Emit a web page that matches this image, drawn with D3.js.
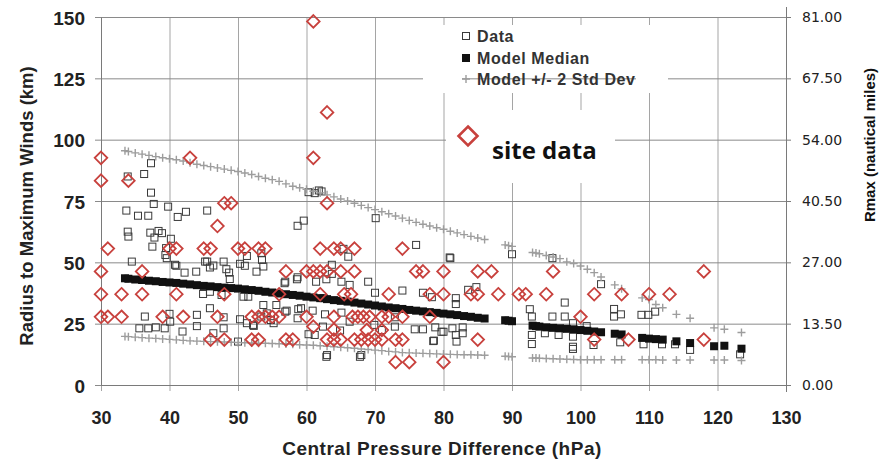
<!DOCTYPE html>
<html>
<head>
<meta charset="utf-8">
<script src="https://cdn.jsdelivr.net/npm/d3@7"></script>
<style>
  body { margin: 0; background: #fff; }
  svg { display: block; }
  .ax text { font-family: "Liberation Sans", Arial, sans-serif; font-weight: bold; fill: #222; }
  .ax path, .ax line { stroke: #7a7a7a; }
</style>
</head>
<body>
<div id="chart"></div>
<script>
// x axis / y axis ticks
var xTicks = [30, 40, 50, 60, 70, 80, 90, 100, 110, 120, 130];
var yTicks = [0, 25, 50, 75, 100, 125, 150];
var rTicks = [0, 13.5, 27, 40.5, 54, 67.5, 81];

// model curves (hPa, km)
var modelX = [33.5, 34, 35, 36, 37, 38, 39, 40, 41, 42, 43, 44, 45, 46, 47, 48, 49, 50, 51, 52, 53, 54, 55, 56, 57, 58, 59, 60,
  61, 62, 63, 64, 65, 66, 67, 68, 69, 70, 71, 72, 73, 74, 75, 76, 77, 78, 79, 80, 81, 82, 83, 84, 85, 86,
  89, 89.5, 90, 93, 93.5, 94, 95, 96, 97, 98, 99, 100, 101, 102, 103, 105, 106, 109, 110, 111, 112, 114, 116, 119.5, 121, 123.5];
var modelMedian = [43.5, 43.3, 43.0, 42.8, 42.5, 42.3, 42.0, 41.8, 41.6, 41.3, 41.0, 40.7, 40.4, 40.2, 39.9, 39.7, 39.5, 39.3, 39.0, 38.7, 38.4, 38.0, 37.7, 37.3, 37.0, 36.7, 36.4, 36.0,
  35.7, 35.4, 35.0, 34.6, 34.3, 34.0, 33.6, 33.2, 32.8, 32.4, 32.0, 31.6, 31.3, 31.0, 30.6, 30.3, 30.0, 29.7, 29.4, 29.1, 28.8, 28.5, 28.1, 27.8, 27.4, 27.1,
  26.4, 26.2, 26.0, 24.2, 24.0, 23.8, 23.5, 23.3, 23.1, 22.9, 22.7, 22.4, 22.1, 21.8, 21.5, 20.9, 20.6, 19.2, 18.9, 18.7, 18.5, 17.8, 17.1, 15.8, 16.0, 14.8];
var modelUpper = [95.5, 95.2, 94.6, 94.1, 93.6, 93.1, 92.6, 92.2, 91.8, 91.3, 90.6, 90.0, 89.5, 89.0, 88.5, 88.0, 87.5, 87.0, 86.4, 85.8, 85.0, 84.3, 83.7, 83.0, 82.0, 81.0, 80.4, 79.8,
  79.0, 78.3, 77.5, 76.7, 75.8, 75.0, 74.1, 73.2, 72.3, 71.5, 70.6, 69.8, 68.9, 68.0, 67.1, 66.3, 65.5, 64.8, 64.1, 63.5, 62.7, 62.0, 61.3, 60.6, 59.9, 59.3,
  57.1, 56.8, 56.5, 54.0, 53.8, 53.5, 52.8, 52.2, 51.5, 50.2, 49.5, 48.5, 47.2, 45.8, 44.0, 40.8, 39.2, 35.5, 34.8, 32.8, 31.5, 28.8, 27.2, 23.3, 22.7, 21.4];
var modelLower = [19.8, 19.7, 19.5, 19.3, 19.1, 19.0, 18.8, 18.6, 18.4, 18.2, 18.0, 17.9, 17.8, 17.7, 17.6, 17.5, 17.4, 17.3, 17.2, 17.1, 17.0, 17.0, 16.9, 16.8, 16.7, 16.6, 16.4, 16.3,
  16.2, 16.0, 15.8, 15.6, 15.4, 15.2, 15.0, 14.7, 14.5, 14.2, 14.0, 13.7, 13.5, 13.2, 13.1, 13.0, 12.9, 12.8, 12.7, 12.6, 12.5, 12.4, 12.3, 12.3, 12.2, 12.1,
  11.7, 11.6, 11.5, 11.0, 11.0, 10.9, 10.8, 10.7, 10.6, 10.5, 10.4, 10.3, 10.3, 10.3, 10.3, 10.3, 10.3, 10.3, 10.3, 10.3, 10.2, 10.2, 10.2, 10.2, 10.2, 10.0];

// observed data (hPa, km)
var obsData = [
  [33.9,85],[36.3,86],[37.3,90.4],[37.3,78.4],[37.7,73.8],[33.7,71.1],[35.4,69],[36.9,69],[39.8,72.7],[41.2,68.5],[42.4,70.6],[45.5,71.1],
  [58.7,64.9],[59.6,67],[60.3,78.6],[61.2,78.2],[61.8,79.3],[62.2,78.9],[70.1,68],
  [33.9,62.5],[34,60.5],[37.2,62.1],[38.4,62.8],[37.8,60.1],[38.9,61.9],[40.2,59.6],[37.5,56.4],[39.5,55.8],
  [39.4,53],[39.6,51.7],[34.5,50.3],[40.8,49],[41,48.6],[42.2,45.8],[43.9,46.2],[45.5,50.3],[45.9,47.9],[46.4,48.7],[47.9,50.3],
  [48.3,47.2],[48.7,45.8],[50.3,49.4],[51,48.6],[51.3,52.6],[53.4,53.7],[53.5,51],[53.7,48.3],[52.7,46.2],[56.8,41.5],[58.7,43.9],
  [48.8,43.2],[45.2,50.3],
  [44.9,37.1],[45.9,38],[47.6,36.7],[50.8,36],[51.5,36],[53.7,32.6],[55.6,32.6],[45.9,31.3],[56.9,29.9],[59.2,31.3],[58.8,30.9],
  [36.4,27.9],[35.6,23.1],[36.9,23.1],[38,23.5],[39.3,23.1],[40,29],[40.1,25.8],[41.9,21.8],[44,28.6],[44,24],[46.4,21.1],
  [47.9,27.6],[47.9,23.1],[50,17.7],[50.3,26.8],[51.3,25.2],[52.3,24.1],[53.4,27.9],[54.2,29.2],[54.8,26.5],[55.2,25.2],
  [58.7,27.2],[60.3,20.7],[61.2,20.4],[52.2,24.5],
  [76,57.1],[81,51.7],[90,53.3],[95.9,51.7],[65.4,55.5],[66.1,52.3],[63.7,49],[63.7,45.3],[56.9,42.1],[58.6,43.1],[61.4,42.1],
  [62.9,43.1],[65.1,42.1],[66.3,40.8],[69,42.1],[70,37.6],[74,38.5],[77,37.6],[78.3,35.8],[81.8,35.4],[81.8,33],[83.6,38.8],
  [84.8,39.9],[62.5,35.4],[57.1,30.3],[60.9,30.3],[62.4,23.8],[62.9,11.5],[64.9,22.2],[65.1,29.5],[66.3,25.8],[67.8,11.5],
  [69.9,24.5],[71,22.4],[72.9,27.6],[72.9,23.8],[75.8,22.7],[77,22.7],[78.8,23.5],[78.6,18.1],[80,21.7],[81.3,23.1],[81.8,20.4],
  [82.8,21.1],[82.8,23.5],[62.7,28.8],[79.7,21.7],[81.9,17.7],[78.5,17.9],[63,12.2],[68,12.2],[80.9,52],
  [92.6,30.9],[92.9,27.9],[92.9,20.4],[92.9,16.7],[94.8,21.1],[95.9,27.9],[96.8,20.4],[97.7,33.6],[97.7,27.9],[98.9,19.7],
  [98.9,15.6],[100.9,24],[101.9,16.3],[103,41.1],[98.9,25.2],[98.9,14.7],[104.9,31],[104.9,27.9],[105.9,28.8],[105.8,17.4],
  [108.9,28.6],[109.9,28.6],[110.9,29.9],[109.2,16.6],[111.9,16.6],[113.8,16.6],[116,14.3],[123.3,12.5]
];

// site data (hPa, km)
var siteData = [
  [61,148.2],[63,111.1],
  [30,92.6],[43,92.6],[61,92.6],
  [30,83.3],[34,83.3],
  [48,74.1],[49,74.1],[63,74.1],
  [47,64.8],
  [31,55.6],[40,55.6],[41,55.6],[45,55.6],[46,55.6],[50,55.6],[51,55.6],[53,55.6],[54,55.6],[62,55.6],[64,55.6],[65,55.6],[67,55.6],[74,55.6],
  [30,46.3],[36,46.3],[57,46.3],[60,46.3],[61,46.3],[62,46.3],[63,46.3],[65,46.3],[67,46.3],[76,46.3],[77,46.3],[80,46.3],[85,46.3],[87,46.3],[96,46.3],[118,46.3],
  [30,37],[33,37],[36,37],[41,37],[48,37],[56,37],[62,37],[65.5,37],[66.5,37],[72,37],[78,37],[80,37],[84,37],[85,37],[88,37],[91,37],[92,37],[95,37],[102,37],[106,37],[110,37],[113,37],
  [30,27.8],[31,27.8],[33,27.8],[39,27.8],[42,27.8],[47,27.8],[52,27.8],[53,27.8],[54,27.8],[55,27.8],[56,27.8],[60,27.8],[64,27.8],[66.7,27.8],[67.5,27.8],[68.3,27.8],[69.2,27.8],[71,27.8],[72,27.8],[74,27.8],[78,27.8],[100,27.8],
  [61,23.8],[64,22.6],[68.8,22.4],[71,22.4],
  [46,18.5],[48,18.5],[52,18.5],[53,18.5],[57,18.5],[58,18.5],[63,18.5],[64,18.5],[65,18.5],[67,18.5],[68,18.5],[69,18.5],[70,18.5],[71,18.5],[73,18.5],[74,18.5],[85,18.5],[102,18.5],[107,18.5],[118,18.5],
  [73,9.3],[75,9.3],[80,9.3]
];

var W = 879, H = 459;
var svg = d3.select('#chart').append('svg').attr('width', W).attr('height', H);

var x = d3.scaleLinear().domain([30, 130]).range([101, 786]);
var y = d3.scaleLinear().domain([0, 150]).range([385, 17]);
var yR = d3.scaleLinear().domain([0, 81]).range([385, 17]);

// grid
var grid = svg.append('g');
grid.selectAll('.vg').data(xTicks).enter().append('line')
  .attr('x1', d => x(d) + 0.5).attr('x2', d => x(d) + 0.5)
  .attr('y1', y(150)).attr('y2', y(0) + 6)
  .attr('stroke', '#a5a5a5').attr('stroke-width', 1);
grid.selectAll('.hg').data(yTicks).enter().append('line')
  .attr('x1', x(30) - 6).attr('x2', x(130))
  .attr('y1', d => y(d) + 0.5).attr('y2', d => y(d) + 0.5)
  .attr('stroke', '#8a8a8a').attr('stroke-width', 1);

// white legend + site data panels (cover the grid like the pasted boxes)
svg.append('rect').attr('x', 423).attr('y', 25).attr('width', 245).attr('height', 68).attr('fill', '#fff');
svg.append('rect').attr('x', 446).attr('y', 110).attr('width', 169).attr('height', 73).attr('fill', '#fff');
svg.append('line').attr('x1', 462).attr('x2', 636).attr('y1', y(125) + 0.5).attr('y2', y(125) + 0.5)
  .attr('stroke', '#8a8a8a');

// axes
var axL = svg.append('g').attr('class', 'ax').attr('transform', 'translate(' + x(30) + ',0)')
  .call(d3.axisLeft(y).tickValues(yTicks).tickSize(0).tickPadding(16));
axL.selectAll('text').style('font-size', '19px').attr('dy', '0.38em');
axL.select('.domain').attr('stroke', '#707070');

var axB = svg.append('g').attr('class', 'ax').attr('transform', 'translate(0,' + y(0) + ')')
  .call(d3.axisBottom(x).tickValues(xTicks).tickSize(0).tickPadding(26));
axB.selectAll('text').style('font-size', '18px');
axB.select('.domain').attr('stroke', '#707070');

var axR = svg.append('g').attr('class', 'ax').attr('transform', 'translate(' + x(130) + ',0)')
  .call(d3.axisRight(yR).tickValues(rTicks).tickSize(5).tickPadding(11).tickFormat(d3.format('.2f')));
axR.selectAll('text').style('font-size', '14px').style('font-weight', 'normal')
  .style('font-family', '"DejaVu Sans", Verdana, sans-serif').attr('fill', '#222');
axR.select('.domain').attr('d', 'M0.5,7V392');

// observed data squares
svg.append('g').selectAll('rect').data(obsData).enter().append('rect')
  .attr('x', d => x(d[0]) - 3.5).attr('y', d => y(d[1]) - 3.5)
  .attr('width', 7).attr('height', 7)
  .attr('fill', 'none').attr('stroke', '#3a3a3a').attr('stroke-width', 1);

// model median
svg.append('g').selectAll('rect').data(modelX).enter().append('rect')
  .attr('x', d => x(d) - 4).attr('y', (d, i) => y(modelMedian[i]) - 4)
  .attr('width', 8).attr('height', 8).attr('fill', '#111');

// model +/- 2 std dev
var plusPath = function(cx, cy) {
  return 'M' + (cx - 4) + ',' + cy + 'H' + (cx + 4) + 'M' + cx + ',' + (cy - 4) + 'V' + (cy + 4);
};
var plusG = svg.append('g').attr('stroke', '#9d9d9d').attr('stroke-width', 1.4).attr('fill', 'none');
plusG.selectAll('.up').data(modelX).enter().append('path')
  .attr('d', (d, i) => plusPath(x(d), y(modelUpper[i])));
plusG.selectAll('.lo').data(modelX).enter().append('path')
  .attr('d', (d, i) => plusPath(x(d), y(modelLower[i])));

// site data diamonds
var diamond = function(cx, cy, r) {
  return 'M' + cx + ',' + (cy - r) + 'L' + (cx + r) + ',' + cy + 'L' + cx + ',' + (cy + r) + 'L' + (cx - r) + ',' + cy + 'Z';
};
svg.append('g').selectAll('path').data(siteData).enter().append('path')
  .attr('d', d => diamond(x(d[0]), y(d[1]), 6.3))
  .attr('fill', 'none').attr('stroke', '#c8413d').attr('stroke-width', 1.8);

// axis titles
svg.append('text').attr('x', 442).attr('y', 455).attr('text-anchor', 'middle')
  .style('font', 'bold 19px "Liberation Sans", Arial, sans-serif').style('letter-spacing', '0.5px').attr('fill', '#222')
  .text('Central Pressure Difference (hPa)');
svg.append('text').attr('transform', 'translate(33,206) rotate(-90)').attr('text-anchor', 'middle')
  .style('font', 'bold 18.5px "Liberation Sans", Arial, sans-serif').attr('fill', '#222')
  .text('Radius to Maximum Winds (km)');
svg.append('text').attr('transform', 'translate(875,145) rotate(-90)').attr('text-anchor', 'middle')
  .style('font', 'bold 15px "Liberation Sans", Arial, sans-serif').attr('fill', '#111')
  .text('Rmax (nautical miles)');

// legend
var leg = svg.append('g');
var legItems = ['Data', 'Model Median', 'Model +/- 2 Std Dev'];
var legY = [36, 58, 79];
leg.append('rect').attr('x', 462.5).attr('y', legY[0] - 3.5).attr('width', 7).attr('height', 7)
  .attr('fill', 'none').attr('stroke', '#3a3a3a');
leg.append('rect').attr('x', 462).attr('y', legY[1] - 4).attr('width', 8).attr('height', 8).attr('fill', '#111');
leg.append('path').attr('d', plusPath(466, legY[2])).attr('stroke', '#9d9d9d').attr('stroke-width', 1.4);
leg.selectAll('text').data(legItems).enter().append('text')
  .attr('x', 477).attr('y', (d, i) => legY[i]).attr('dy', '0.36em')
  .style('font', 'bold 16px "Liberation Sans", Arial, sans-serif').style('letter-spacing', '0.6px')
  .attr('fill', '#333').text(d => d);

// site data label
svg.append('path').attr('d', diamond(468, 136, 9.5))
  .attr('fill', 'none').attr('stroke', '#c8413d').attr('stroke-width', 2.6);
svg.append('text').attr('x', 492).attr('y', 159)
  .style('font', 'bold 24px "Open Sans", sans-serif').attr('fill', '#111')
  .text('site data');
</script>
</body>
</html>
